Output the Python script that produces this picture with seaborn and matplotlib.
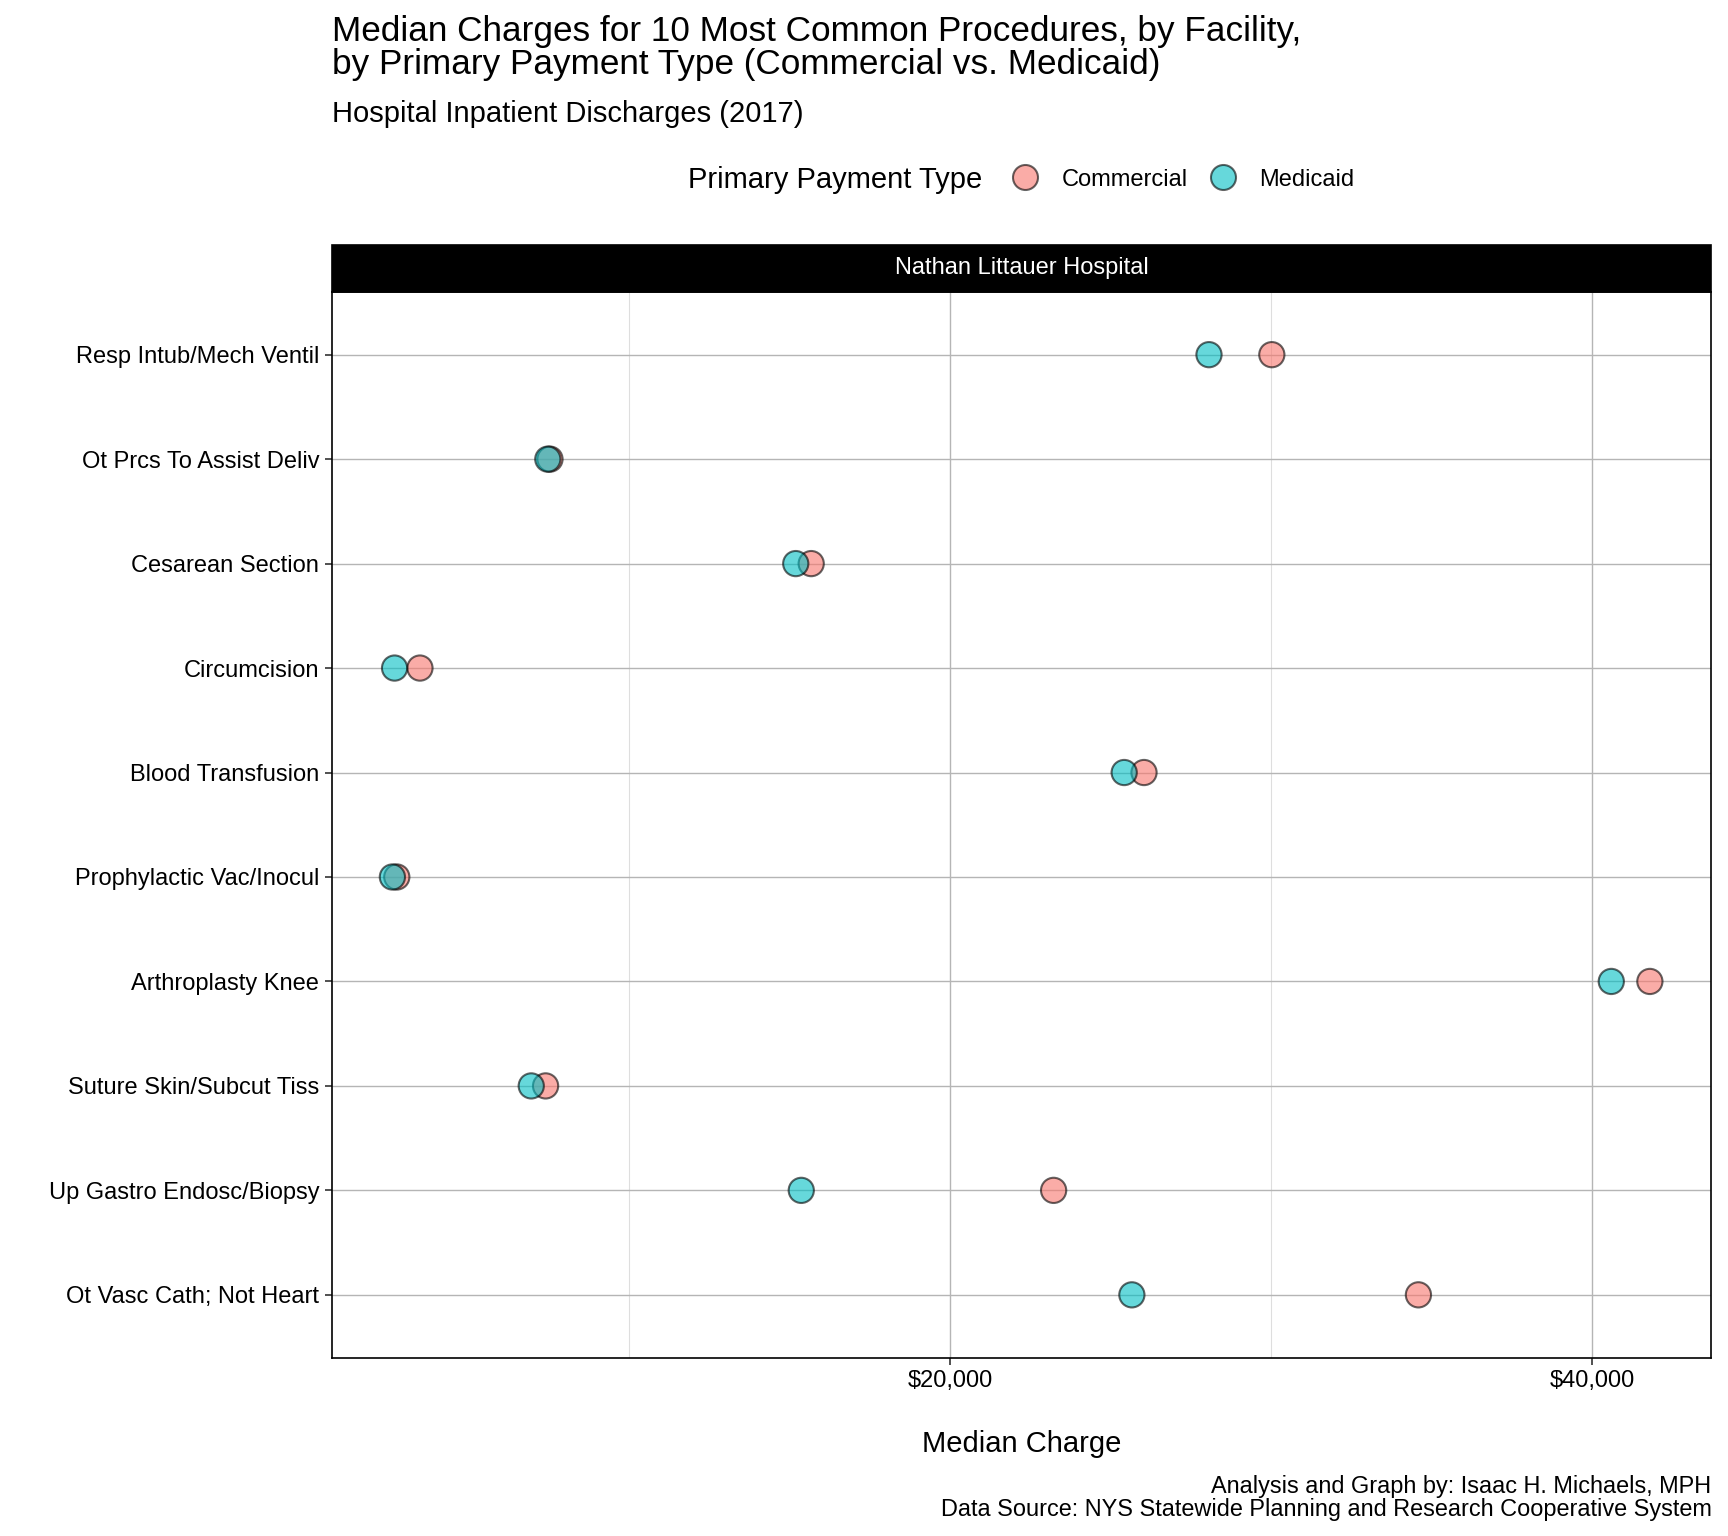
import matplotlib
matplotlib.use("Agg")
import matplotlib.pyplot as plt
from matplotlib.lines import Line2D
from matplotlib.patches import Rectangle
from matplotlib.ticker import FuncFormatter, FixedLocator
import seaborn as sns
import pandas as pd

procedures = [
    "Resp Intub/Mech Ventil",
    "Ot Prcs To Assist Deliv",
    "Cesarean Section",
    "Circumcision",
    "Blood Transfusion",
    "Prophylactic Vac/Inocul",
    "Arthroplasty Knee",
    "Suture Skin/Subcut Tiss",
    "Up Gastro Endosc/Biopsy",
    "Ot Vasc Cath; Not Heart",
]
commercial = [30020, 7548, 15680, 3500, 26041, 2779, 41789, 7411, 23227, 34584]
medicaid = [28064, 7480, 15199, 2710, 25424, 2642, 40588, 6965, 15371, 25663]
payment_types = ["Commercial", "Medicaid"]
facility = "Nathan Littauer Hospital"

colors = {"Commercial": "#F8766D", "Medicaid": "#00BFC4"}

df = pd.DataFrame({
    "Procedure": procedures + procedures,
    "Charge": commercial + medicaid,
    "Payment": [payment_types[0]] * len(procedures) + [payment_types[1]] * len(procedures),
})

sns.set_theme(style="white")
plt.rcParams["font.family"] = ["Liberation Sans", "DejaVu Sans"]
plt.rcParams["text.color"] = "black"

fig = plt.figure(figsize=(17.28, 15.36), dpi=100)
left, right = 0.192, 0.9904
bottom, top = 0.1162, 0.8099
strip_top = 0.8407
ax = fig.add_axes([left, bottom, right - left, top - bottom])

cat_map = {p: i for i, p in enumerate(procedures)}
df["ypos"] = df["Procedure"].map(cat_map)

sns.scatterplot(data=df, x="Charge", y="ypos", hue="Payment", palette=colors,
                hue_order=payment_types, s=330, alpha=0.6, edgecolor="black",
                linewidth=1.5, legend=False, ax=ax, zorder=3)

ax.set_xlim(755, 43705)
ax.set_ylim(len(procedures) - 1 + 0.6, -0.6)
ax.set_yticks(range(len(procedures)))
ax.set_yticklabels(procedures)
ax.xaxis.set_major_locator(FixedLocator([20000, 40000]))
ax.xaxis.set_minor_locator(FixedLocator([10000, 30000]))
ax.xaxis.set_major_formatter(FuncFormatter(lambda v, p: f"${v:,.0f}"))
ax.grid(True, which="major", color="#b5b5b5", linewidth=1.0, zorder=0)
ax.grid(True, which="minor", axis="x", color="#dedede", linewidth=0.8, zorder=0)
ax.set_axisbelow(True)
for sp in ax.spines.values():
    sp.set_color("black")
    sp.set_linewidth(1.2)
ax.tick_params(axis="both", which="major", length=5, width=1.2, color="#333333",
               labelsize=17, labelcolor="black", pad=4, bottom=True, left=True)
ax.tick_params(axis="x", which="minor", length=0)
ax.set_ylabel("")
ax.set_xlabel("Median Charge", fontsize=21, labelpad=27, color="black")

# facet strip
strip = Rectangle((left, top), right - left, strip_top - top, transform=fig.transFigure,
                  facecolor="black", edgecolor="black", linewidth=1.2)
fig.add_artist(strip)
fig.text((left + right) / 2, (top + strip_top) / 2, facility, color="white",
         fontsize=17, ha="center", va="center")

# titles
fig.text(left, 0.969, "Median Charges for 10 Most Common Procedures, by Facility,\nby Primary Payment Type (Commercial vs. Medicaid)",
         fontsize=25.3, ha="left", va="center", linespacing=1.0, color="black")
fig.text(left, 0.926, "Hospital Inpatient Discharges (2017)", fontsize=21, ha="left",
         va="center", color="black")

# legend
fig.text(0.398, 0.883, "Primary Payment Type", fontsize=21, ha="left", va="center", color="black")
handles = [Line2D([0], [0], marker="o", linestyle="", markersize=18,
                  markerfacecolor=colors[t], markeredgecolor="black",
                  markeredgewidth=1.5, alpha=0.6) for t in payment_types]
leg = fig.legend(handles, payment_types, loc="center left", bbox_to_anchor=(0.5725, 0.883),
                 ncol=2, frameon=False, fontsize=17, handletextpad=0.95, columnspacing=0.9,
                 handlelength=1.2)
for t in leg.get_texts():
    t.set_color("black")

# caption
fig.text(right, 0.025, "Analysis and Graph by: Isaac H. Michaels, MPH\nData Source: NYS Statewide Planning and Research Cooperative System",
         fontsize=16.9, ha="right", va="center", linespacing=1.0, color="black")

fig.savefig("out.png", dpi=100)
